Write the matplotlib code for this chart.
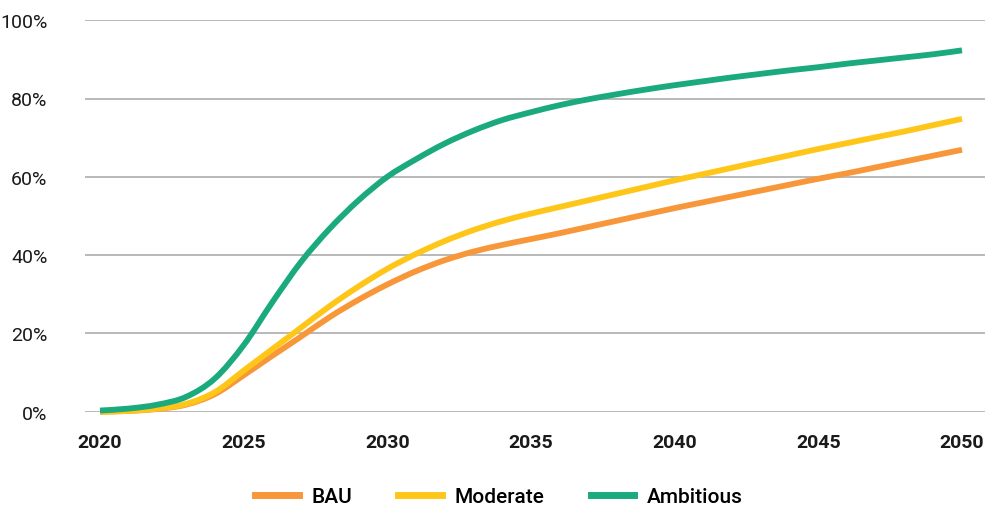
import numpy as np
import matplotlib.pyplot as plt
from matplotlib.path import Path
from matplotlib.patches import PathPatch

plt.rcParams['font.family'] = ['Roboto', 'DejaVu Sans']

years = list(range(2020, 2051))

# share of fleet, %
bau = [0.0, 0.2, 0.7, 1.8, 4.5, 9.3, 14.3, 19.2, 24.2, 28.6, 32.5,
       35.9, 38.7, 40.9, 42.6, 44.1, 45.6, 47.2, 48.8, 50.4, 52.0,
       53.5, 55.0, 56.5, 58.0, 59.5, 60.9, 62.4, 63.9, 65.4, 66.9]
moderate = [0.0, 0.2, 0.8, 2.0, 5.0, 10.5, 16.0, 21.5, 27.0, 32.0, 36.5,
            40.3, 43.6, 46.4, 48.7, 50.6, 52.3, 54.0, 55.7, 57.4, 59.1,
            60.7, 62.3, 63.9, 65.5, 67.1, 68.6, 70.1, 71.6, 73.2, 74.8]
ambitious = [0.3, 0.8, 1.8, 3.8, 8.5, 17.0, 28.0, 38.3, 46.8, 54.0, 60.0,
             64.5, 68.5, 71.8, 74.5, 76.5, 78.3, 79.8, 81.1, 82.3, 83.4,
             84.4, 85.4, 86.3, 87.2, 88.0, 88.9, 89.7, 90.5, 91.3, 92.3]

series = [('BAU', bau, '#F7973A'),
          ('Moderate', moderate, '#FFC61A'),
          ('Ambitious', ambitious, '#1AAA7D')]


def smooth_path(x, y):
    # excel-style smoothed line: bezier segments through every data point
    x = np.asarray(x, float)
    y = np.asarray(y, float)
    pts = np.column_stack([x, y])
    ext = np.vstack([pts[0], pts, pts[-1]])
    verts = [pts[0]]
    codes = [Path.MOVETO]
    for i in range(len(pts) - 1):
        p0, p1, p2, p3 = ext[i], ext[i + 1], ext[i + 2], ext[i + 3]
        c1 = p1 + (p2 - p0) / 6.0
        c2 = p2 - (p3 - p1) / 6.0
        verts += [c1, c2, p2]
        codes += [Path.CURVE4] * 3
    return Path(verts, codes)


fig = plt.figure(figsize=(9.86, 5.06), dpi=100)
ax = fig.add_axes([85 / 986, (506 - 412.7) / 506, 900 / 986, (412.7 - 21.2) / 506])

for name, vals, col in series:
    patch = PathPatch(smooth_path(years, vals), fill=False, edgecolor=col,
                      lw=4.2, capstyle='butt', joinstyle='round',
                      transform=ax.transData, clip_on=False, zorder=3)
    ax.add_patch(patch)
    ax.plot([], [], color=col, lw=5, label=name)

ax.set_xlim(2020 - 15 / 28.73, 2050 + 23 / 28.73)
ax.set_ylim(0, 100)
ax.set_xticks(range(2020, 2051, 5))
ax.set_yticks(range(0, 101, 20))
ax.set_yticklabels([f'{v}%' for v in range(0, 101, 20)])

ax.grid(axis='y', color='#A6A6A6', lw=1.1)
ax.set_axisbelow(True)
for s in ax.spines.values():
    s.set_visible(False)
ax.tick_params(axis='both', length=0)
ax.tick_params(axis='y', pad=27, labelsize=14, labelcolor='#1a1a1a')
ax.tick_params(axis='x', pad=15, labelsize=14, labelcolor='#1a1a1a')
for t in ax.get_xticklabels():
    t.set_fontweight('bold')

leg = fig.legend(loc='center', bbox_to_anchor=(499 / 986, 8 / 506), ncol=3,
                 frameon=False, handlelength=2.1, handletextpad=0.62,
                 columnspacing=2.2, prop={'size': 15, 'weight': 'medium'})

fig.savefig('out.png', dpi=100)
